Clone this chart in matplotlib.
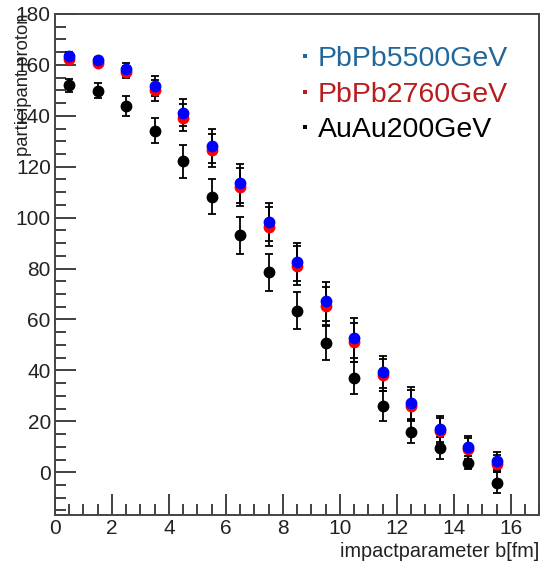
import numpy as np
import matplotlib
matplotlib.use('Agg')
import matplotlib.pyplot as plt
from matplotlib.lines import Line2D
from matplotlib.ticker import MultipleLocator

plt.rcParams['font.family'] = ['Liberation Sans', 'DejaVu Sans']

# impact parameter bin centres [fm]
b = [0.5, 1.5, 2.5, 3.5, 4.5, 5.5, 6.5, 7.5, 8.5, 9.5, 10.5, 11.5, 12.5, 13.5, 14.5, 15.5]

npart_5500 = [163.5, 161.8, 158.3, 151.7, 141.2, 128.2, 113.5, 98.3, 82.7, 67.2, 52.6, 39.3, 27.1, 17.1, 9.8, 4.3]
err_5500 = [1.5, 1.5, 2.5, 3.9, 5.3, 6.8, 7.6, 7.6, 7.5, 7.6, 7.8, 6.4, 6.3, 5.1, 4.6, 3.5]

npart_2760 = [162.5, 160.9, 157.2, 150.0, 139.3, 126.5, 112.0, 96.5, 81.2, 65.4, 51.0, 38.2, 26.1, 16.2, 9.0, 3.4]
err_2760 = [1.5, 1.5, 2.5, 4.0, 5.3, 6.5, 7.5, 7.5, 7.5, 7.5, 7.5, 6.3, 6.1, 5.0, 4.5, 3.4]

npart_200 = [152.0, 149.9, 144.0, 134.2, 122.1, 108.3, 93.1, 78.5, 63.4, 50.7, 36.9, 26.0, 16.0, 9.4, 3.8, -4.1]
err_200 = [2.6, 2.9, 3.9, 5.0, 6.5, 7.0, 7.3, 7.3, 7.3, 6.7, 6.3, 5.8, 4.5, 4.3, 2.6, 4.2]

labels = ['PbPb5500GeV', 'PbPb2760GeV', 'AuAu200GeV']
text_colors = ['#22679a', '#b81c1c', 'black']

fig = plt.figure(figsize=(5.44, 5.62), dpi=100)
ax = fig.add_axes([0.1011, 0.0836, 0.8906, 0.8915])

style = dict(fmt='o', ms=7.5, capsize=2.8, elinewidth=1.3, capthick=1.3)
ax.errorbar(b, npart_200, yerr=err_200, color='black', mec='black', ecolor='black', **style)
ax.errorbar(b, npart_2760, yerr=err_2760, color='#ff0000', mec='#ff0000', ecolor='black', **style)
ax.errorbar(b, npart_5500, yerr=err_5500, color='#0000ff', mec='#0000ff', ecolor='black', **style)

ax.set_xlim(0, 17)
ax.set_ylim(-16.8, 180)
ax.xaxis.set_major_locator(MultipleLocator(2))
ax.xaxis.set_minor_locator(MultipleLocator(0.5))
ax.yaxis.set_major_locator(MultipleLocator(20))
ax.yaxis.set_minor_locator(MultipleLocator(5))
ax.tick_params(which='both', direction='in', top=False, right=False,
               colors='#333333', labelcolor='#222222', labelsize=15, width=1.3)
ax.tick_params(which='major', length=15, pad=3)
ax.tick_params(which='minor', length=8)
for sp in ax.spines.values():
    sp.set_color('#444444')
    sp.set_linewidth(1.4)

ax.set_xlabel('impactparameter b[fm]', fontsize=14.3, color='#222222')
ax.xaxis.set_label_coords(1.0, -0.072)
ax.xaxis.label.set_ha('right')
ax.xaxis.label.set_va('center')
ax.set_ylabel('participant proton', fontsize=13.3, color='#222222')
ax.yaxis.set_label_coords(-0.066, 1.0)
ax.yaxis.label.set_va('center')
ax.yaxis.label.set_ha('right')

handles = [Line2D([], [], ls='none', marker='s', ms=2.6, mew=0, color=c) for c in text_colors]
leg = ax.legend(handles, labels, loc='upper left', bbox_to_anchor=(0.48, 0.958),
                frameon=False, fontsize=20.5, handlelength=0.4, handletextpad=0.25,
                labelspacing=0.32, borderaxespad=0)
for t, c in zip(leg.get_texts(), text_colors):
    t.set_color(c)

fig.savefig('out.png', dpi=100)
